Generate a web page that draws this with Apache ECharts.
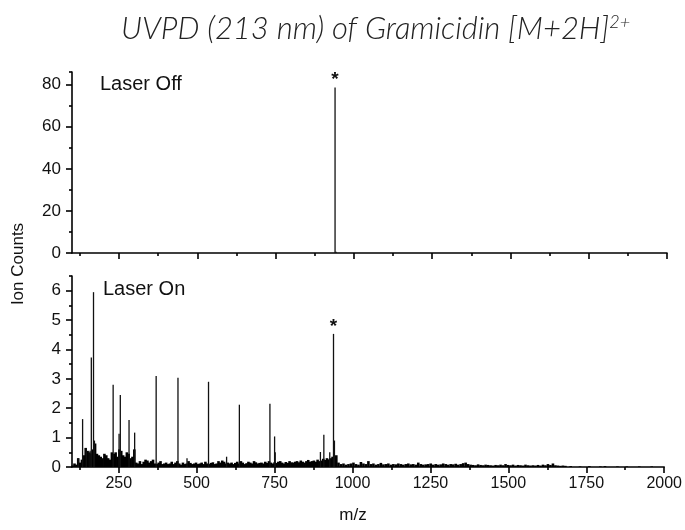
<!DOCTYPE html>
<html>
<head>
<meta charset="utf-8">
<script src="https://cdn.jsdelivr.net/npm/echarts@6/dist/echarts.min.js"></script>
<style>html,body{margin:0;padding:0;background:#fff}#c{width:685px;height:530px}</style>
</head>
<body>
<div id="c"></div>
<script>
// ---- tick values ----
const xMajorTicks = [250, 500, 750, 1000, 1250, 1500, 1750, 2000];
const xMinorTicks = [125, 375, 625, 875, 1125, 1375, 1625, 1875];
const topYMajor = [0, 20, 40, 60, 80];
const topYMinor = [10, 30, 50, 70, 86];
const botYMajor = [0, 1, 2, 3, 4, 5, 6];
const botYMinor = [0.5, 1.5, 2.5, 3.5, 4.5, 5.5, 6.5];

// ---- Laser Off (top) ----
const offPeakMz  = [940, 943];
const offPeakVal = [78.6, 0.6];

// ---- Laser On (bottom) main peaks ----
const onPeakMz  = [120, 134, 146, 158, 162, 169, 172, 232, 251, 255, 283, 301, 370, 440, 469, 538, 596, 637, 735, 750, 752, 897, 908, 927, 939, 942];
const onPeakVal = [0.3, 1.63, 0.65, 0.55, 3.73, 5.95, 0.9, 2.8, 1.13, 2.45, 1.6, 1.17, 3.1, 3.04, 0.3, 2.9, 0.35, 2.12, 2.15, 1.04, 0.5, 0.51, 1.1, 0.5, 4.53, 0.9];
const starredMz = [940, 939];

// ---- Laser On noise floor ----
const noiseAStart = 102, noiseAStep = 6;
const noiseA = [
  0.05,0.12,0.08,0.3,0.15,
  0.25,0.4,0.65,0.55,0.5,0.45,0.6,0.8,0.45,
  0.4,0.35,0.3,0.45,0.4,0.3,0.25,0.5,
  0.45,0.5,0.35,0.6,0.55,0.4,0.35,0.5,0.45,0.3,0.35,0.6,
  0.15,0.12,0.2,0.1,0.18,0.25,0.22,0.15,0.2,0.25,0.12,0.1,0.15,0.2,0.1,0.12,
  0.15,0.1,0.12,0.18,0.1,0.15,0.2,0.12,0.08,0.15,0.1,0.12,0.2,0.14,0.1,0.12,0.15,
  0.1,0.12,0.15,0.1,0.18,0.12,0.1,0.14,0.16,0.1,0.12,0.2,0.15,0.22,0.18,0.12,0.15,
  0.12,0.15,0.1,0.14,0.18,0.12,0.2,0.15,0.1,0.13,0.18,0.15,0.12,0.2,0.16,0.12,0.14,
  0.15,0.12,0.18,0.14,0.2,0.15,0.12,0.16,0.14,0.18,0.2,0.15,0.12,0.17,0.14,0.2,0.16,
  0.15,0.18,0.2,0.16,0.22,0.18,0.15,0.2,0.24,0.18,0.2,0.22,0.18,0.25,0.2,0.22,0.28,0.24,0.3,0.26,0.3,0.35,0.3,0.4
];
const noiseBStart = 955, noiseBStep = 8;
const noiseB = [
  0.15,0.1,0.12,0.08,0.1,0.12,0.15,0.1,0.08,0.17,0.12,0.1,0.2,
  0.1,0.12,0.08,0.1,0.14,0.09,0.1,0.12,0.08,0.1,0.09,0.12,0.1,
  0.08,0.1,0.12,0.09,0.1,0.08,0.15,0.1,0.08,0.09,0.1,0.12,0.08,
  0.1,0.08,0.09,0.12,0.1,0.08,0.1,0.09,0.11,0.08,0.1,0.13,0.15,
  0.1,0.08,0.07,0.06,0.09,0.07,0.06,0.08,0.07,0.06,0.05,0.07,0.06,
  0.08,0.06,0.1,0.07,0.06,0.08,0.05,0.07,0.06,0.05,0.08,0.06,0.05,
  0.06,0.05,0.07,0.05,0.08,0.06,0.1,0.07,0.12,0.06,0.05,0.04,0.05,0.04
];
const noiseCMz  = [1700, 1730, 1760, 1795, 1810, 1850, 1880, 1920, 1960];
const noiseCVal = [0.03, 0.02, 0.03, 0.02, 0.03, 0.02, 0.02, 0.02, 0.02];

// ---- build series data ----
function peaks(mz, val) {
  return mz.map((m, i) => {
    const item = { value: [m, val[i]] };
    if (starredMz.indexOf(m) >= 0 && val[i] > 2) {
      item.label = { show: true, formatter: '*', position: 'top', distance: -2,
        fontFamily: 'Liberation Sans, Arial', fontSize: 19, fontWeight: 'bold', color: '#111' };
    }
    return item;
  });
}
const noiseData = [];
noiseA.forEach((v, i) => noiseData.push([noiseAStart + i * noiseAStep, v]));
noiseB.forEach((v, i) => noiseData.push([noiseBStart + i * noiseBStep, v]));
noiseCMz.forEach((m, i) => noiseData.push([m, noiseCVal[i]]));

const FONT = 'Liberation Sans, Arial, sans-serif';
const lineStyle = { color: '#000', width: 1.6 };
const plain = v => String(v);

function xMajor(grid, showLabels) {
  return {
    type: 'value', gridIndex: grid, min: 100, max: 2000, position: 'bottom',
    axisLine: { show: true, onZero: false, lineStyle: lineStyle },
    axisTick: { show: true, inside: false, length: 6, customValues: xMajorTicks, lineStyle: lineStyle },
    axisLabel: { show: showLabels, customValues: xMajorTicks, formatter: plain, margin: 9, color: '#111', fontFamily: FONT, fontSize: 16 },
    splitLine: { show: false }
  };
}
function xMinor(grid) {
  return {
    type: 'value', gridIndex: grid, min: 100, max: 2000, position: 'bottom',
    axisLine: { show: false, onZero: false },
    axisTick: { show: true, inside: false, length: 3, customValues: xMinorTicks, lineStyle: lineStyle },
    axisLabel: { show: false },
    splitLine: { show: false }
  };
}
function yMajor(grid, max, ticks) {
  return {
    type: 'value', gridIndex: grid, min: 0, max: max, position: 'left',
    axisLine: { show: true, lineStyle: lineStyle },
    axisTick: { show: true, inside: false, length: 6, customValues: ticks, lineStyle: lineStyle },
    axisLabel: { show: true, customValues: ticks, formatter: plain, margin: 11, color: '#111', fontFamily: FONT, fontSize: 17 },
    splitLine: { show: false }
  };
}
function yMinor(grid, max, ticks) {
  return {
    type: 'value', gridIndex: grid, min: 0, max: max, position: 'left',
    axisLine: { show: false },
    axisTick: { show: true, inside: false, length: 3, customValues: ticks, lineStyle: lineStyle },
    axisLabel: { show: false },
    splitLine: { show: false }
  };
}

const chart = echarts.init(document.getElementById('c'), null, { renderer: 'canvas' });
chart.setOption({
  animation: false,
  backgroundColor: '#fff',
  title: {
    left: 116, top: 8,
    text: '{t|UVPD (213 nm) of Gramicidin [M+2H]}{s|2+}',
    textStyle: {
      rich: {
        t: { fontFamily: 'Lato, Open Sans, sans-serif', fontStyle: 'italic', fontWeight: 300, fontSize: 31, color: '#222' },
        s: { fontFamily: 'Lato, Open Sans, sans-serif', fontStyle: 'italic', fontWeight: 300, fontSize: 18, color: '#222', verticalAlign: 'top', padding: [0, 0, 14, 0] }
      }
    }
  },
  grid: [
    { left: 72, right: 18, top: 72, height: 181 },
    { left: 72, right: 18, top: 276, height: 191 }
  ],
  xAxis: [xMajor(0, false), xMinor(0), xMajor(1, true), xMinor(1)],
  yAxis: [yMajor(0, 86, topYMajor), yMinor(0, 86, topYMinor), yMajor(1, 6.5, botYMajor), yMinor(1, 6.5, botYMinor)],
  series: [
    { type: 'bar', xAxisIndex: 0, yAxisIndex: 0, barWidth: 1.3, itemStyle: { color: '#111' },
      data: peaks(offPeakMz, offPeakVal) },
    { type: 'bar', xAxisIndex: 3, yAxisIndex: 2, barWidth: 2.6, itemStyle: { color: '#000' },
      data: noiseData },
    { type: 'bar', xAxisIndex: 2, yAxisIndex: 2, barWidth: 1.3, itemStyle: { color: '#111' },
      data: peaks(onPeakMz, onPeakVal) }
  ],
  graphic: [
    { type: 'text', left: 100, top: 74, style: { text: 'Laser Off', font: '20px ' + FONT, fill: '#111' } },
    { type: 'text', left: 103, top: 279, style: { text: 'Laser On', font: '20px ' + FONT, fill: '#111' } },
    { type: 'text', x: 18, y: 264, rotation: Math.PI / 2,
      style: { text: 'Ion Counts', font: '17px ' + FONT, fill: '#111', align: 'center', verticalAlign: 'middle' } },
    { type: 'text', x: 353, y: 515,
      style: { text: 'm/z', font: '17px ' + FONT, fill: '#111', align: 'center', verticalAlign: 'middle' } }
  ]
});
</script>
</body>
</html>
